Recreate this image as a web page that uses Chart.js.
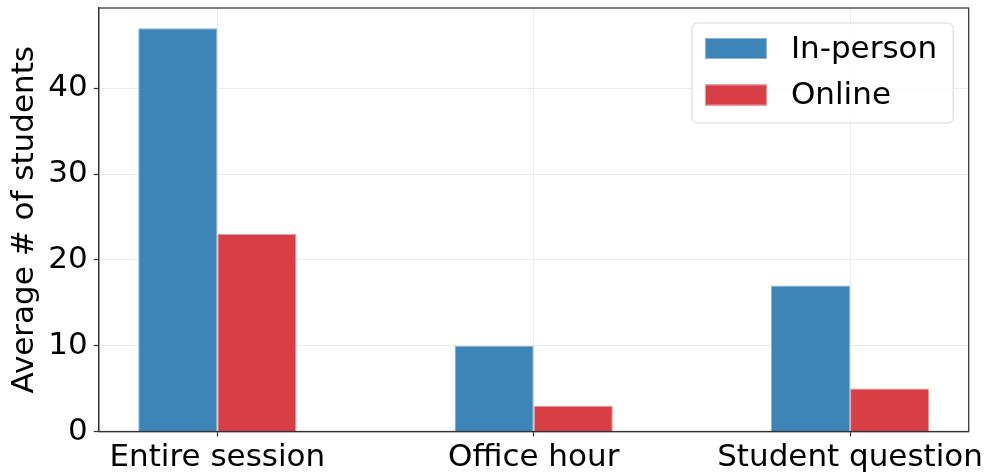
<!DOCTYPE html>
<html><head><meta charset="utf-8">
<script src="https://cdn.jsdelivr.net/npm/chart.js@4"></script>
<style>html,body{margin:0;padding:0;background:#fff}</style>
</head>
<body>
<canvas id="c" width="987" height="474" style="display:block;width:987px;height:474px"></canvas>
<script>
const categories = ['Entire session', 'Office hour', 'Student question'];
const inPerson = [47, 10, 17];
const online = [23, 3, 5];
const yTicks = [0, 10, 20, 30, 40];
const seriesNames = ['In-person', 'Online'];

const FONT = "'DejaVu Sans', sans-serif";
const FS = 31;
const BLUE = '#3d84b8';
const RED = '#d83f45';

const frame = {
  id: 'frame',
  afterDraw(chart) {
    const {ctx, chartArea: a} = chart;
    ctx.save();
    ctx.strokeStyle = '#333';
    ctx.lineWidth = 1.25;
    ctx.strokeRect(a.left, a.top, a.right - a.left, a.bottom - a.top);
    ctx.restore();
  }
};

const boxLegend = {
  id: 'boxLegend',
  afterDraw(chart) {
    const {ctx, chartArea: a} = chart;
    const ds = chart.data.datasets;
    ctx.save();
    ctx.font = FS + 'px ' + FONT;
    const sw = 62, sh = 21, padL = 13, gap = 24, padR = 16, rowH = 46.5, firstC = 25.5, lastPad = 28;
    let tw = 0;
    ds.forEach(d => { tw = Math.max(tw, ctx.measureText(d.label).width); });
    const w = padL + sw + gap + tw + padR;
    const h = firstC + rowH * (ds.length - 1) + lastPad;
    const x = a.right - 15.5 - w;
    const y = a.top + 15;
    ctx.beginPath();
    ctx.roundRect(x, y, w, h, 5);
    ctx.fillStyle = 'rgba(255,255,255,0.85)';
    ctx.fill();
    ctx.strokeStyle = '#d6d6d6';
    ctx.lineWidth = 1;
    ctx.stroke();
    ds.forEach((d, i) => {
      const cy = y + firstC + i * rowH;
      ctx.fillStyle = d.backgroundColor;
      ctx.fillRect(x + padL, cy - sh / 2, sw, sh);
      ctx.strokeStyle = d.borderColor;
      ctx.lineWidth = 1;
      ctx.strokeRect(x + padL + 0.5, cy - sh / 2 + 0.5, sw - 1, sh - 1);
      ctx.fillStyle = '#000';
      ctx.textBaseline = 'middle';
      ctx.textAlign = 'left';
      ctx.fillText(d.label, x + padL + sw + gap, cy + 1);
    });
    ctx.restore();
  }
};

new Chart(document.getElementById('c'), {
  type: 'bar',
  data: {
    datasets: [
      {
        label: seriesNames[0],
        data: inPerson.map((v, i) => ({x: i, y: v})),
        backgroundColor: BLUE,
        borderColor: '#8db5d6',
        borderWidth: 1
      },
      {
        label: seriesNames[1],
        data: online.map((v, i) => ({x: i, y: v})),
        backgroundColor: RED,
        borderColor: '#ec9a9d',
        borderWidth: 1
      }
    ]
  },
  options: {
    responsive: false,
    animation: false,
    devicePixelRatio: 1,
    layout: {padding: {top: 8, right: 18.3, left: 0, bottom: 0}},
    categoryPercentage: 0.5,
    barPercentage: 1,
    plugins: {legend: {display: false}, tooltip: {enabled: false}},
    scales: {
      x: {
        type: 'linear',
        offset: false,
        min: -0.375,
        max: 2.375,
        afterBuildTicks(s) { s.ticks = categories.map((c, i) => ({value: i})); },
        afterFit(s) { s.height = 42.5; s.paddingLeft = 0; s.paddingRight = 0; },
        ticks: {
          callback: (v) => categories[v],
          font: {family: FONT, size: FS},
          color: '#000',
          padding: 3,
          maxRotation: 0,
          autoSkip: false
        },
        grid: {offset: false, color: '#ebebeb', lineWidth: 1, tickColor: '#333', tickLength: 5, tickWidth: 1.25},
        border: {color: '#333', width: 1.25}
      },
      y: {
        min: 0,
        max: 49.35,
        afterBuildTicks(s) { s.ticks = yTicks.map(v => ({value: v})); },
        afterFit(s) { s.width = 98.7; s.paddingTop = 0; s.paddingBottom = 0; },
        ticks: {
          font: {family: FONT, size: FS},
          color: '#000',
          padding: 6
        },
        grid: {color: '#ebebeb', lineWidth: 1, tickColor: '#333', tickLength: 5, tickWidth: 1.25},
        border: {color: '#333', width: 1.25},
        title: {
          display: true,
          text: 'Average # of students',
          font: {family: FONT, size: FS, lineHeight: 1.2},
          color: '#000',
          padding: {top: 6, bottom: 0}
        }
      }
    }
  },
  plugins: [frame, boxLegend]
});
</script>
</body></html>
